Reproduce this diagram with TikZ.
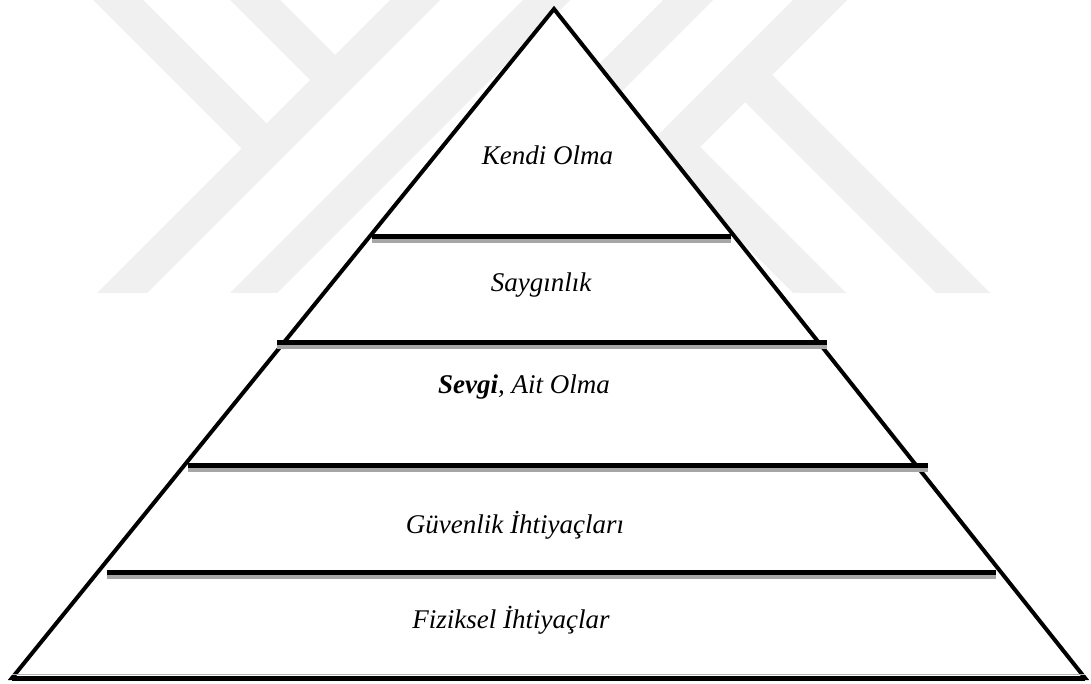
\documentclass[tikz,border=0pt]{standalone}
\usepackage{fontspec}
\setmainfont{Liberation Serif}
\usepackage{tikz}
\usepackage{xcolor}

\begin{document}
\begin{tikzpicture}[x=1pt,y=-1pt]
				    \tikzstyle{logoband}=[fill,black!6,draw=none]
				    \tikzstyle{side}=[draw,line width = 4pt,-,black!100,fill=white,line join=miter]
				    \tikzstyle{base}=[draw,line width = 5pt,-,black!100]
				    \tikzstyle{bar}=[draw,line width = 5pt,-,black!100]
				    \tikzstyle{barshadow}=[draw,line width = 4pt,-,black!35]
				    \tikzstyle{level}=[font=\fontsize{27}{32}\selectfont\itshape,anchor=base,inner sep=0pt]
				    \useasboundingbox (0,0) rectangle (1091,684);
				    \fill[white] (0,0) rectangle (1091,684);
				    \fill[logoband] (93,0) -- (241.5,148.5) -- (97,293) -- (147,293) -- (440,0) -- (390,0) -- (335,55) -- (280,0) -- (230,0) -- (310,80) -- (266.5,123.5) -- (143,0) -- cycle;
				    \fill[logoband] (230,293) -- (277,293) -- (570,0) -- (523,0) -- cycle;
				    \fill[logoband] (663,0) -- (713,0) -- (420,293) -- (370,293) -- cycle;
				    \fill[logoband] (793,0) -- (646.5,146.5) -- (793,293) -- (846,293) -- (700,147) -- (745,102) -- (936,293) -- (990,293) -- (772,75) -- (847,0) -- cycle;
				    \coordinate (top) at (554,9);
				    \coordinate (bl) at (12,678);
				    \coordinate (br) at (1085,678);
				    \draw[side] (top) -- (bl) -- (br) -- cycle;
				    \draw[black!30,line width = 1.5pt] ([yshift=3.5pt]bl) -- ([yshift=3.5pt]br);
				    \draw[base] (bl) -- (br);
				    \coordinate (l1) at (372,236.5);
				    \coordinate (r1) at (731,236.5);
				    \coordinate (l2) at (277,342.5);
				    \coordinate (r2) at (827,342.5);
				    \coordinate (l3) at (188,465);
				    \coordinate (r3) at (928,465);
				    \coordinate (l4) at (107,572.5);
				    \coordinate (r4) at (996,572.5);
				    \foreach \i in {1,...,4} {
				        \draw[barshadow] ([yshift=-4.5pt]l\i) -- ([yshift=-4.5pt]r\i);
				        \draw[bar] (l\i) -- (r\i);
				    }
				    \node[level] (kendi) at (547.5,165) {Kendi Olma};
				    \node[level] (saygi) at (541,291) {Saygınlık};
				    \node[level] (sevgi) at (524,393) {\textbf{Sevgi}, Ait Olma};
				    \node[level] (guven) at (515,533) {Güvenlik İhtiyaçları};
				    \node[level] (fizik) at (511,628) {Fiziksel İhtiyaçlar};
				\end{tikzpicture}
\end{document}
